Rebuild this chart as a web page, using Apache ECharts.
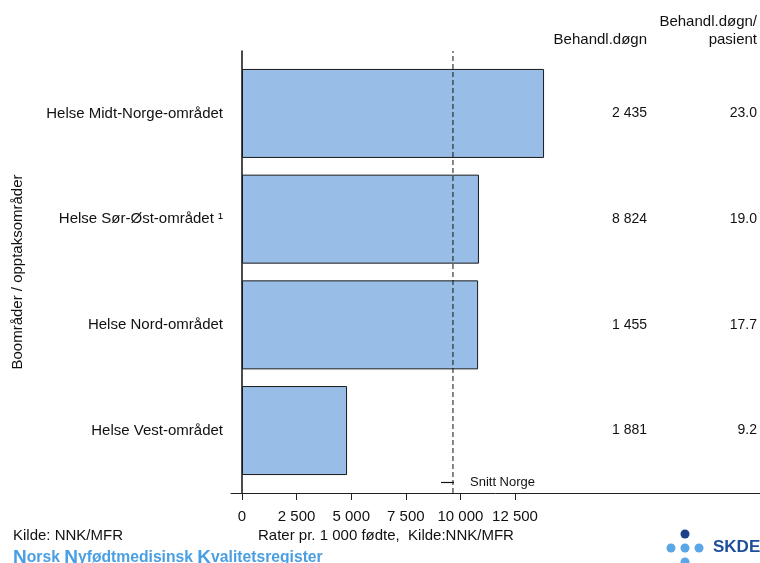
<!DOCTYPE html>
<html><head><meta charset="utf-8">
<script src="https://cdn.jsdelivr.net/npm/echarts@6/dist/echarts.min.js"></script>
<style>html,body{margin:0;padding:0;background:#fff}#c{width:760px;height:563px}</style>
</head><body><div id="c"></div>
<script>
var categories = ['Helse Midt-Norge-området', 'Helse Sør-Øst-området \u00B9', 'Helse Nord-området', 'Helse Vest-området'];
var rates = [13830, 10850, 10810, 4810];
var behandlDogn = [2435, 8824, 1455, 1881];
var dognPerPasient = [23.0, 19.0, 17.7, 9.2];
var snittNorge = 9660;
var xTicks = [0, 2500, 5000, 7500, 10000, 12500];

function fmt(n){ return String(n).replace(/\B(?=(\d{3})+(?!\d))/g, ' '); }
var FONT = 'Liberation Sans, Arial, sans-serif';
var TXT = '#111';
var XMIN = -504, XMAX = 23718;

function ttl(text, pos, size){
  var o = {text: text, padding: 0, textStyle: {fontSize: size || 15, fontWeight: 'normal', color: TXT, fontFamily: FONT}};
  for (var k in pos) o[k] = pos[k];
  return o;
}

var chart = echarts.init(document.getElementById('c'), null, {renderer:'canvas'});
chart.setOption({
  animation: false,
  textStyle: {fontFamily: FONT},
  title: [
    ttl('Behandl.døgn', {right: 113, top: 32}),
    ttl('Behandl.døgn/', {right: 3, top: 14}),
    ttl('pasient', {right: 3, top: 32}),
    ttl('Kilde: NNK/MFR', {left: 13, top: 528}),
    ttl('Rater pr. 1 000 fødte,  Kilde:NNK/MFR', {left: 258, top: 528}),
    {text: '{c|N}{t|orsk }{c|N}{t|yfødtmedisinsk }{c|K}{t|valitetsregister}', left: 13, top: 548, padding: 0,
     textStyle: {rich: {
       c: {fontSize: 19, fontWeight: 'bold', color: '#4a9fe3', fontFamily: FONT},
       t: {fontSize: 15.7, fontWeight: 'bold', color: '#4a9fe3', fontFamily: FONT}
     }}}
  ],
  legend: {
    data: [{name: 'Snitt Norge', icon: 'rect'}], left: 441, top: 476, padding: 0,
    itemWidth: 13, itemHeight: 1.2,
    textStyle: {fontSize: 13, color: TXT, fontFamily: FONT, padding: [0,0,0,11]}
  },
  grid: [
    {left: 231, right: 0, top: 60.6, bottom: 79.6, containLabel: false, outerBoundsMode: 'none'},
    {left: 231, right: 0, top: 51, bottom: 70, containLabel: false, outerBoundsMode: 'none'}
  ],
  xAxis: [
    {gridIndex: 0, type: 'value', min: XMIN, max: XMAX, show: false, splitLine: {show: false}},
    {gridIndex: 1, type: 'value', min: XMIN, max: XMAX, splitLine: {show: false},
     axisLine: {show: true, onZero: true, lineStyle: {color: '#222', width: 1}},
     axisTick: {show: true, length: 7, customValues: xTicks, lineStyle: {color: '#222'}},
     axisLabel: {show: true, customValues: xTicks, margin: 16, fontSize: 15, color: TXT, fontFamily: FONT,
       formatter: function(v){ return fmt(v); }}}
  ],
  yAxis: [
    {gridIndex: 0, type: 'category', inverse: true, data: categories,
     axisLine: {show: false, onZero: false}, axisTick: {show: false},
     axisLabel: {margin: 8, fontSize: 15, color: TXT, fontFamily: FONT}},
    {gridIndex: 0, type: 'category', inverse: true, data: categories, position: 'right', offset: -113,
     axisLine: {show: false, onZero: false}, axisTick: {show: false},
     axisLabel: {margin: 0, align: 'right', fontSize: 14, color: TXT, fontFamily: FONT,
       formatter: function(v, i){ return fmt(behandlDogn[i]); }}},
    {gridIndex: 0, type: 'category', inverse: true, data: categories, position: 'right', offset: -3,
     axisLine: {show: false, onZero: false}, axisTick: {show: false},
     axisLabel: {margin: 0, align: 'right', fontSize: 14, color: TXT, fontFamily: FONT,
       formatter: function(v, i){ return dognPerPasient[i].toFixed(1); }}},
    {gridIndex: 1, type: 'value', min: 0, max: 1, splitLine: {show: false},
     axisLine: {show: true, onZero: true, lineStyle: {color: '#111', width: 1.5}},
     axisTick: {show: false}, axisLabel: {show: false},
     name: 'Boområder / opptaksområder', nameLocation: 'middle', nameRotate: 90, nameGap: 206,
     nameTextStyle: {fontSize: 15, color: TXT, fontFamily: FONT}}
  ],
  series: [
    {type: 'bar', xAxisIndex: 0, yAxisIndex: 0, data: rates, barWidth: 89,
     itemStyle: {color: '#98bde6', borderColor: '#1a1a1a', borderWidth: 1}},
    {type: 'line', name: 'Snitt Norge', xAxisIndex: 1, yAxisIndex: 3,
     data: [[snittNorge, 0], [snittNorge, 1]], symbol: 'none', showSymbol: false,
     itemStyle: {color: '#111'},
     lineStyle: {color: '#111', width: 1, type: [5, 3]}}
  ],
  graphic: [
    {type: 'circle', shape: {cx: 685, cy: 534, r: 4.5}, style: {fill: '#1d3f8a'}},
    {type: 'circle', shape: {cx: 671, cy: 548, r: 4.5}, style: {fill: '#5aa6e6'}},
    {type: 'circle', shape: {cx: 685, cy: 548, r: 4.5}, style: {fill: '#5aa6e6'}},
    {type: 'circle', shape: {cx: 699, cy: 548, r: 4.5}, style: {fill: '#5aa6e6'}},
    {type: 'circle', shape: {cx: 685, cy: 562, r: 4.5}, style: {fill: '#5aa6e6'}},
    {type: 'text', left: 713, top: 539, style: {text: 'SKDE', fill: '#1d4f9a', font: 'bold 17px ' + FONT}}
  ]
});
</script></body></html>
